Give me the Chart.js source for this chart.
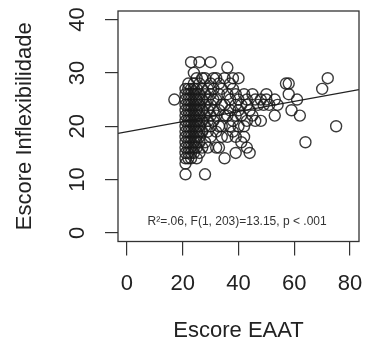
<!DOCTYPE html>
<html>
<head>
<meta charset="utf-8">
<script src="https://cdn.jsdelivr.net/npm/chart.js@4/dist/chart.umd.min.js"></script>
<style>
  html, body { margin: 0; padding: 0; background: #fff; }
  #wrap { width: 366px; height: 347px; }
</style>
</head>
<body>
<div id="wrap"><canvas id="scatterChart" width="366" height="347"></canvas></div>
<script>
// Escore EAAT vs Escore Inflexibilidade
const eaat = [
  21,21,21,21,21,21,21,21,21,21,21,21,21,21,21,21,
  22,22,22,22,22,22,22,22,22,22,22,22,22,22,22,
  23,23,23,23,23,23,23,23,23,23,23,23,23,23,23,
  24,24,24,24,24,24,24,24,24,24,24,24,24,24,24,
  25,25,25,25,25,25,25,25,25,25,25,25,25,25,
  26,26,26,26,26,26,26,26,26,26,26,26,26,
  27,27,27,27,27,27,27,
  28,28,28,28,28,28,28,
  29,29,29,29,29,29,
  30,30,30,30,30,30,30,
  31,31,31,31,31,
  32,32,32,32,32,
  33,33,33,33,33,
  34,34,34,34,
  35,35,35,35,
  36,36,36,36,
  37,37,37,37,
  38,38,38,38,
  39,39,39,39,39,
  40,40,40,40,
  41,41,41,
  42,42,42,
  43,43,43,43,
  44,44,
  45,45,
  46,46,
  47,
  48,48,
  49,
  50,50,
  51,
  53,53,
  54,
  57,58,58,59,61,62,64,70,72,75,
  17
];
const inflex = [
  11,13,14,15,16,17,18,19,20,21,22,23,24,25,26,27,
  14,15,16,17,18,19,20,21,22,23,24,25,26,27,28,
  14,15,16,17,18,19,20,21,22,23,24,25,26,27,32,
  15,16,17,18,19,20,21,22,23,24,25,26,27,28,30,
  14,16,17,18,19,20,21,22,23,24,25,26,27,29,
  15,17,18,19,20,21,22,23,24,25,26,28,32,
  16,19,21,23,25,27,29,
  11,17,20,22,24,26,29,
  16,19,21,23,25,27,
  18,20,22,24,26,28,32,
  21,23,25,27,29,
  16,19,22,25,29,
  16,20,23,26,28,
  18,20,24,27,
  14,22,24,29,
  18,22,26,31,
  20,23,25,28,
  19,21,27,29,
  15,18,22,24,26,
  20,23,25,29,
  17,22,24,
  18,20,26,
  16,21,24,25,
  15,23,
  22,26,
  21,25,
  24,
  21,25,
  24,
  26,25,
  24,
  22,25,
  24,
  28,26,28,23,25,22,17,27,29,20,
  25
];

// regression line endpoints (at the plot edges)
const fitX = [-3.2, 83.2];
const fitY = [18.65, 26.85];

const xTicks = [0, 20, 40, 60, 80];
const yTicks = [0, 10, 20, 30, 40];
const xTitle = 'Escore EAAT';
const yTitle = 'Escore Inflexibilidade';
const note = 'R\u00b2=.06, F(1, 203)=13.15, p < .001';
const notePos = [39.5, 2.1];

const fontFamily = '"Liberation Sans", Arial, sans-serif';
const ink = '#222';

const points = eaat.map((x, i) => ({x: x, y: inflex[i]}));
const fitLine = fitX.map((x, i) => ({x: x, y: fitY[i]}));

// box, rotated y tick labels and the note
const extras = {
  id: 'extras',
  afterDraw(chart) {
    const c = chart.ctx;
    const a = chart.chartArea;
    const xs = chart.scales.x;
    const ys = chart.scales.y;
    c.save();
    c.strokeStyle = '#333';
    c.lineWidth = 1.3;
    c.strokeRect(a.left, a.top, a.right - a.left, a.bottom - a.top);

    c.fillStyle = ink;
    c.font = '22px ' + fontFamily;
    c.textAlign = 'center';
    c.textBaseline = 'middle';
    yTicks.forEach(v => {
      c.save();
      c.translate(78, ys.getPixelForValue(v));
      c.rotate(-Math.PI / 2);
      c.fillText(String(v), 0, 0);
      c.restore();
    });

    c.fillStyle = '#333';
    c.font = '12px ' + fontFamily;
    c.fillText(note, xs.getPixelForValue(notePos[0]), ys.getPixelForValue(notePos[1]));
    c.restore();
  }
};

new Chart(document.getElementById('scatterChart'), {
  type: 'scatter',
  data: {
    datasets: [
      {
        data: points,
        pointStyle: 'circle',
        pointRadius: 5.5,
        pointHoverRadius: 5.5,
        pointBorderWidth: 1.4,
        pointBorderColor: 'rgba(25,25,25,0.85)',
        pointBackgroundColor: 'rgba(0,0,0,0)'
      },
      {
        type: 'line',
        data: fitLine,
        borderColor: ink,
        borderWidth: 1.2,
        pointRadius: 0,
        fill: false
      }
    ]
  },
  options: {
    responsive: false,
    animation: false,
    layout: { padding: { left: 0, right: 7, top: 11, bottom: 0 } },
    plugins: { legend: { display: false }, tooltip: { enabled: false } },
    scales: {
      x: {
        type: 'linear',
        min: -3.2,
        max: 83.2,
        afterBuildTicks: s => { s.ticks = xTicks.map(v => ({value: v})); },
        afterFit: s => { s.height = 105.5; s.paddingLeft = 0; s.paddingRight = 0; },
        grid: { drawOnChartArea: false, drawTicks: true, tickLength: 14, color: '#333', lineWidth: 1.2 },
        border: { display: false },
        ticks: { color: ink, font: { family: fontFamily, size: 22 }, padding: 15, maxRotation: 0 },
        title: { display: true, text: xTitle, color: ink, font: { family: fontFamily, size: 22 }, padding: { top: 0, bottom: 3 } }
      },
      y: {
        type: 'linear',
        min: -1.6,
        max: 41.6,
        afterBuildTicks: s => { s.ticks = yTicks.map(v => ({value: v})); },
        afterFit: s => { s.width = 118; s.paddingTop = 0; s.paddingBottom = 0; },
        grid: { drawOnChartArea: false, drawTicks: true, tickLength: 13, color: '#333', lineWidth: 1.2 },
        border: { display: false },
        ticks: { display: false },
        title: { display: true, text: yTitle, color: ink, font: { family: fontFamily, size: 22 }, padding: { top: 12, bottom: 0 } }
      }
    }
  },
  plugins: [extras]
});
</script>
</body>
</html>
